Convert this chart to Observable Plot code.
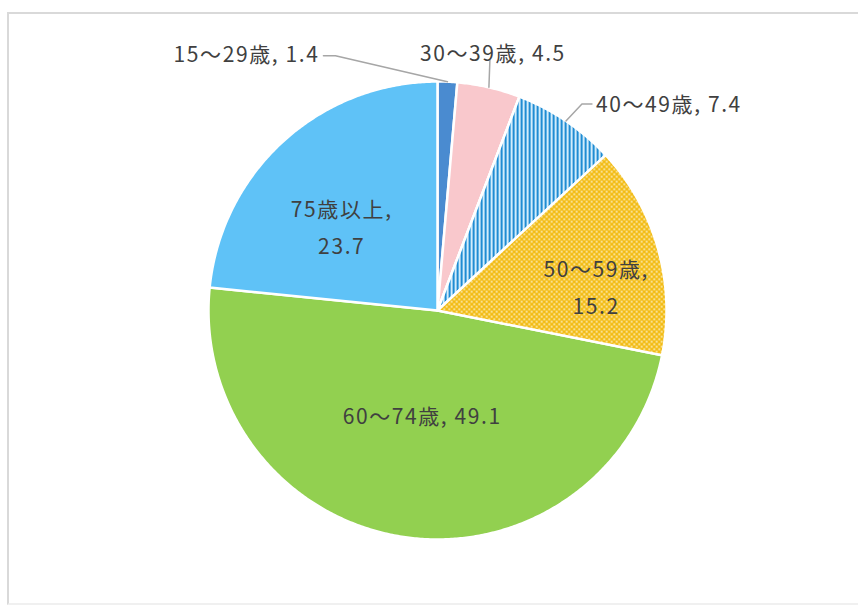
<!DOCTYPE html>
<html><head><meta charset="utf-8">
<script src="https://cdn.jsdelivr.net/npm/d3@7"></script>
<script src="https://cdn.jsdelivr.net/npm/@observablehq/plot@0.6"></script>
<style>
body{margin:0;background:#fff;}
#frame{position:absolute;left:7px;top:12px;width:860px;height:589px;border-left:2px solid #d9d9d9;border-top:2px solid #d9d9d9;border-bottom:2px solid #f0f0f0;}
#chart{position:absolute;left:0;top:0;}
</style></head><body>
<div id="frame"></div><div id="chart"></div>
<script>
// ---- data ----
const categories = ["15〜29歳", "30〜39歳", "40〜49歳", "50〜59歳", "60〜74歳", "75歳以上"];
const values = [1.4, 4.5, 7.4, 15.2, 49.1, 23.7];
const colors = ["#4a8bd0", "#f9c8cc", "#2a8fd4", "#f2bd17", "#92d050", "#5fc2f7"];
const patterns = [null, null, "stripes", "dots", null, null];

// ---- layout ----
const W = 858, H = 605, cx = 437, cy = 310, R = 229;
const labelLayout = {
  "15〜29歳": {outside: true, k: 1.0, elbow: [-112, -26], elbow2: [-124, -26], anchor: "end", dx: -4, dy: -6},
  "30〜39歳": {outside: true, k: 1.0, elbow: [1, -27], elbow2: [1, -27], anchor: "middle", dx: 3, dy: -11},
  "40〜49歳": {outside: true, k: 1.0, elbow: [16, -17], elbow2: [26, -17], anchor: "start", dx: 4, dy: -4},
  "50〜59歳": {outside: false, k: 0.72, dx: 0, dy: 18},
  "60〜74歳": {outside: false, k: 0.45, dx: 0, dy: 0},
  "75歳以上": {outside: false, k: 0.5, dx: -19, dy: -2}
};

const rows = categories.map((c, i) => ({cat: c, value: values[i], color: colors[i], pattern: patterns[i]}));
const arcs = d3.pie().sort(null).value(d => d.value)(rows);

const px = (a, r) => cx + r * Math.sin(a);
const py = (a, r) => cy - r * Math.cos(a);

const slicePts = [];
arcs.forEach(a => {
  const n = Math.max(8, Math.ceil((a.endAngle - a.startAngle) * 120));
  slicePts.push({cat: a.data.cat, x: cx, y: cy, pattern: a.data.pattern});
  for (let j = 0; j <= n; j++) {
    const t = a.startAngle + (a.endAngle - a.startAngle) * j / n;
    slicePts.push({cat: a.data.cat, x: px(t, R), y: py(t, R), pattern: a.data.pattern});
  }
  slicePts.push({cat: a.data.cat, x: cx, y: cy, pattern: a.data.pattern});
});

const labels = [];
const leaders = [];
arcs.forEach(a => {
  const L = labelLayout[a.data.cat];
  const mid = (a.startAngle + a.endAngle) / 2;
  const x0 = px(mid, R * L.k), y0 = py(mid, R * L.k);
  if (L.outside) {
    const e1 = [x0 + L.elbow[0], y0 + L.elbow[1]];
    const e2 = [x0 + L.elbow2[0], y0 + L.elbow2[1]];
    leaders.push({cat: a.data.cat, x: x0, y: y0}, {cat: a.data.cat, x: e1[0], y: e1[1]}, {cat: a.data.cat, x: e2[0], y: e2[1]});
    labels.push({text: `${a.data.cat}, ${a.data.value}`, x: e2[0] + L.dx, y: e2[1] + L.dy, anchor: L.anchor});
  } else {
    const t = a.data.value >= 40 ? `${a.data.cat}, ${a.data.value}` : `${a.data.cat},\n${a.data.value}`;
    labels.push({text: t, x: x0 + L.dx, y: y0 + L.dy, anchor: "middle"});
  }
});

const fontFamily = "'Noto Sans CJK JP', 'Noto Sans', sans-serif";
const textOpts = {x: "x", y: "y", text: "text", fill: "#404040", fontSize: 21, lineHeight: 1.76, lineAnchor: "middle"};

const chart = Plot.plot({
  width: W, height: H, margin: 0,
  x: {domain: [0, W], range: [0, W], axis: null},
  y: {domain: [0, H], range: [0, H], axis: null},
  color: {domain: categories, range: colors},
  style: {fontFamily, background: "transparent", letterSpacing: "1.6px"},
  marks: [
    Plot.line(slicePts, {x: "x", y: "y", z: "cat", fill: "cat", stroke: "white", strokeWidth: 2.5, strokeLinejoin: "round"}),
    Plot.line(slicePts.filter(d => d.pattern === "stripes"), {x: "x", y: "y", z: "cat", fill: "url(#stripes)", stroke: "white", strokeWidth: 2.5, strokeLinejoin: "round"}),
    Plot.line(slicePts.filter(d => d.pattern === "dots"), {x: "x", y: "y", z: "cat", fill: "url(#dots)", stroke: "white", strokeWidth: 2.5, strokeLinejoin: "round"}),
    Plot.line(leaders, {x: "x", y: "y", z: "cat", stroke: "#a6a6a6", strokeWidth: 1.5}),
    Plot.text(labels.filter(d => d.anchor === "start"), {...textOpts, textAnchor: "start"}),
    Plot.text(labels.filter(d => d.anchor === "middle"), {...textOpts, textAnchor: "middle"}),
    Plot.text(labels.filter(d => d.anchor === "end"), {...textOpts, textAnchor: "end"})
  ]
});

// pattern definitions
const ns = "http://www.w3.org/2000/svg";
const defs = document.createElementNS(ns, "defs");
defs.innerHTML = `
<pattern id="stripes" patternUnits="userSpaceOnUse" width="4" height="4">
  <rect width="4" height="4" fill="#ffffff"/>
  <rect x="0" width="2" height="4" fill="#1f8bd2"/>
  <rect x="2" width="0.8" height="4" fill="#8fd3f7"/>
</pattern>
<pattern id="dots" patternUnits="userSpaceOnUse" width="5" height="5">
  <rect width="5" height="5" fill="#f2bb12"/>
  <circle cx="1.25" cy="1.25" r="0.95" fill="#fff6d8"/>
  <circle cx="3.75" cy="3.75" r="0.95" fill="#fff6d8"/>
</pattern>`;
chart.insertBefore(defs, chart.firstChild);
document.getElementById("chart").appendChild(chart);
</script>
</body></html>
